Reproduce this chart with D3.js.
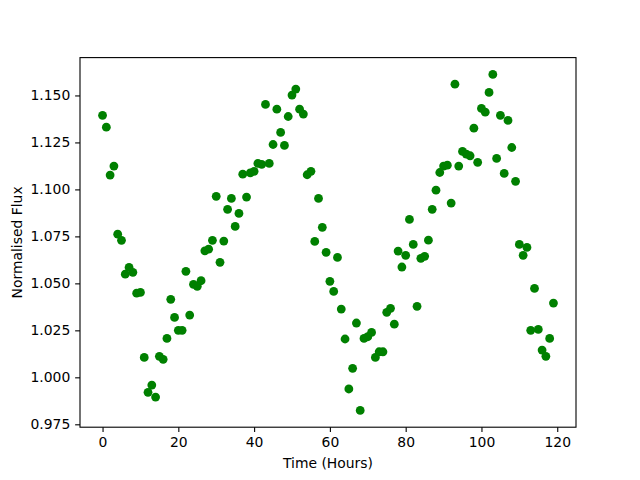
<!DOCTYPE html>
<html>
<head>
<meta charset="utf-8">
<script src="https://cdn.jsdelivr.net/npm/d3@7"></script>
<style>
  html, body { margin: 0; padding: 0; background: #fff; }
  svg { display: block; }
  text { font-family: "DejaVu Sans", sans-serif; }
</style>
</head>
<body>
<svg id="chart" width="640" height="480"></svg>
<script>
// ---- Data ----
const hours = d3.range(0, 120);
const flux = [
  1.1394, 1.1331, 1.1076, 1.1124, 1.0762, 1.0729, 1.0549, 1.0585, 1.0559, 1.0448,
  1.0452, 1.0106, 0.9920, 0.9959, 0.9895, 1.0112, 1.0096, 1.0207, 1.0415, 1.0319,
  1.0250, 1.0250, 1.0564, 1.0331, 1.0495, 1.0484, 1.0514, 1.0673, 1.0682, 1.0729,
  1.0963, 1.0612, 1.0725, 1.0894, 1.0952, 1.0803, 1.0872, 1.1081, 1.0959, 1.1088,
  1.1096, 1.1138, 1.1133, 1.1452, 1.1138, 1.1239, 1.1427, 1.1303, 1.1234, 1.1388,
  1.1502, 1.1534, 1.1427, 1.1401, 1.1078, 1.1096, 1.0723, 1.0952, 1.0798, 1.0665,
  1.0511, 1.0457, 1.0638, 1.0363, 1.0204, 0.9938, 1.0048, 1.0289, 0.9824, 1.0207,
  1.0216, 1.0239, 1.0106, 1.0136, 1.0136, 1.0346, 1.0367, 1.0283, 1.0672, 1.0587,
  1.0649, 1.0840, 1.0707, 1.0378, 1.0633, 1.0644, 1.0730, 1.0894, 1.0996, 1.1090,
  1.1124, 1.1129, 1.0927, 1.1560, 1.1124, 1.1202, 1.1188, 1.1179, 1.1326, 1.1144,
  1.1431, 1.1411, 1.1516, 1.1612, 1.1165, 1.1394, 1.1085, 1.1367, 1.1223, 1.1043,
  1.0707, 1.0649, 1.0691, 1.0250, 1.0473, 1.0255, 1.0145, 1.0112, 1.0207, 1.0395
];
const xTicks = [0, 20, 40, 60, 80, 100, 120];
const yTicks = [0.975, 1.000, 1.025, 1.050, 1.075, 1.100, 1.125, 1.150];
const xLabel = "Time (Hours)";
const yLabel = "Normalised Flux";

(function () {
  // ---- Layout (matplotlib default figure 6.4x4.8 @100dpi) ----
  const W = 640, H = 480;
  const mLeft = 80, mRight = 576, mTop = 57.6, mBottom = 427.2;

  const svg = d3.select("#chart");
  svg.append("rect").attr("width", W).attr("height", H).attr("fill", "#fff");

  function padded(ext) {
    const r = ext[1] - ext[0];
    return [ext[0] - 0.05 * r, ext[1] + 0.05 * r];
  }
  const x = d3.scaleLinear().domain(padded(d3.extent(hours))).range([mLeft, mRight]);
  const y = d3.scaleLinear().domain(padded(d3.extent(flux))).range([mBottom, mTop]);

  const tickLen = 4.86;
  const fontPx = 13.9;

  // X axis
  const xAxis = d3.axisBottom(x).tickValues(xTicks).tickFormat(d3.format("d"))
    .tickSizeInner(tickLen).tickSizeOuter(0).tickPadding(4.86);
  const gx = svg.append("g").attr("transform", `translate(0,${mBottom})`).call(xAxis);
  gx.select(".domain").remove();
  gx.selectAll(".tick line").attr("stroke", "#000").attr("stroke-width", 1.1);
  gx.selectAll(".tick text").attr("font-size", fontPx).attr("fill", "#000")
    .attr("font-family", "DejaVu Sans, sans-serif");

  // Y axis
  const yAxis = d3.axisLeft(y).tickValues(yTicks).tickFormat(d3.format(".3f"))
    .tickSizeInner(tickLen).tickSizeOuter(0).tickPadding(4.86);
  const gy = svg.append("g").attr("transform", `translate(${mLeft},0)`).call(yAxis);
  gy.select(".domain").remove();
  gy.selectAll(".tick line").attr("stroke", "#000").attr("stroke-width", 1.1);
  gy.selectAll(".tick text").attr("font-size", fontPx).attr("fill", "#000")
    .attr("font-family", "DejaVu Sans, sans-serif");

  // Points
  svg.append("g").selectAll("circle")
    .data(hours.map((h, i) => [h, flux[i]]))
    .join("circle")
    .attr("cx", d => x(d[0]))
    .attr("cy", d => y(d[1]))
    .attr("r", 4.4)
    .attr("fill", "#008000");

  // Frame (spines)
  svg.append("rect")
    .attr("x", mLeft).attr("y", mTop)
    .attr("width", mRight - mLeft).attr("height", mBottom - mTop)
    .attr("fill", "none").attr("stroke", "#000").attr("stroke-width", 1.1);

  // Axis labels
  svg.append("text")
    .attr("x", (mLeft + mRight) / 2).attr("y", 468)
    .attr("text-anchor", "middle").attr("font-size", fontPx).attr("fill", "#000")
    .text(xLabel);

  svg.append("text")
    .attr("transform", `translate(22,${(mTop + mBottom) / 2}) rotate(-90)`)
    .attr("text-anchor", "middle").attr("font-size", fontPx).attr("fill", "#000")
    .text(yLabel);
})();
</script>
</body>
</html>
